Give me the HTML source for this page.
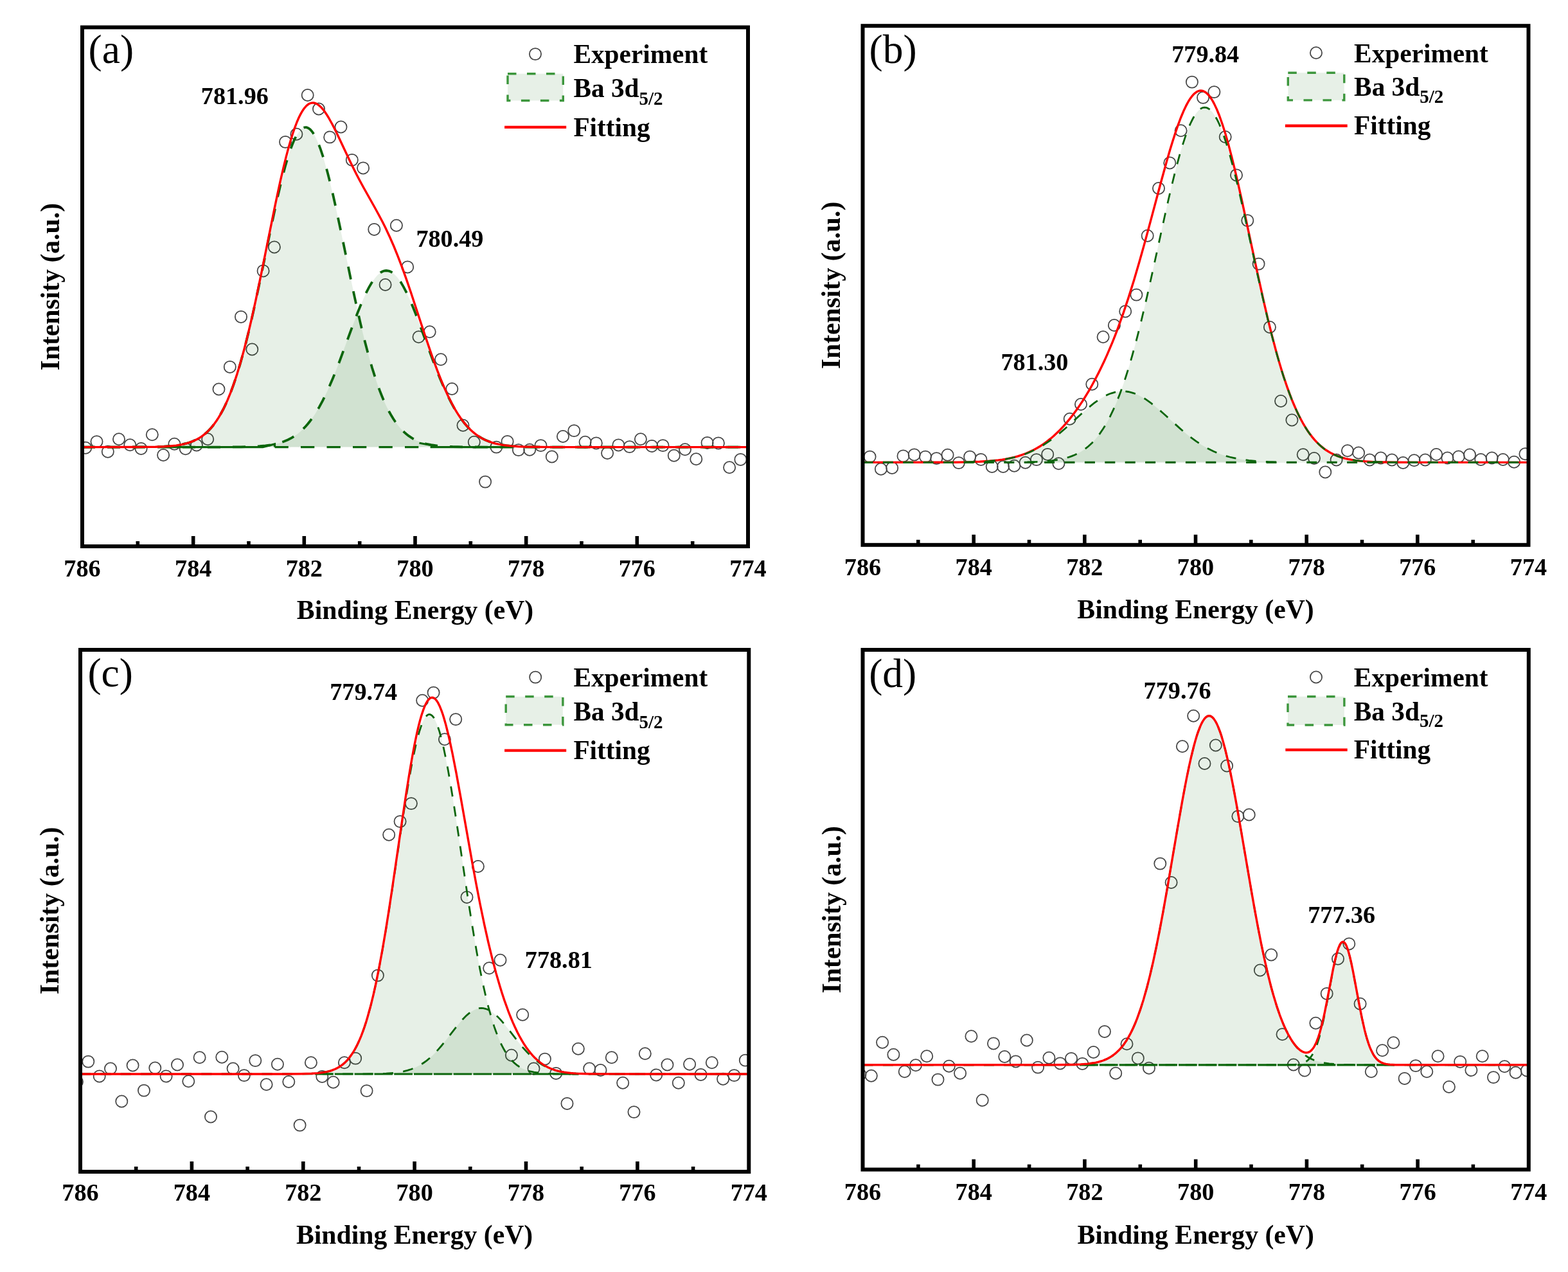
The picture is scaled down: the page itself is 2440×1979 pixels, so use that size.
<!DOCTYPE html>
<html><head><meta charset="utf-8"><title>Ba 3d5/2 XPS spectra</title><style>
html,body{margin:0;padding:0;background:#fff;overflow:hidden;width:2440px;height:1979px;}
svg{display:block;}
text{font-family:'Liberation Serif','Times New Roman',serif;fill:#000;}
.tk{font-size:38.2px;font-weight:bold;}
.ax{font-size:41.7px;font-weight:bold;}
.lg{font-size:41.3px;font-weight:bold;}
.sb{font-size:29px;}
.pk{font-size:38.2px;font-weight:bold;}
.lt{font-size:63.5px;}
circle{fill:none;stroke:#454545;stroke-width:1.75;}
</style></head>
<body><svg width="2440" height="1979" viewBox="0 0 2440 1979">
<rect x="0" y="0" width="2440" height="1979" fill="#fff"/>
<defs><clipPath id="clipa"><rect x="128" y="42.5" width="1036" height="807.5"/></clipPath></defs>
<g clip-path="url(#clipa)">
<circle cx="133.2" cy="696.8" r="9.1"/>
<circle cx="150.5" cy="687.1" r="9.1"/>
<circle cx="167.8" cy="702.8" r="9.1"/>
<circle cx="185" cy="683.3" r="9.1"/>
<circle cx="202.3" cy="692.3" r="9.1"/>
<circle cx="219.6" cy="698" r="9.1"/>
<circle cx="236.8" cy="676.3" r="9.1"/>
<circle cx="254.1" cy="708" r="9.1"/>
<circle cx="271.4" cy="690.8" r="9.1"/>
<circle cx="288.7" cy="698.3" r="9.1"/>
<circle cx="305.9" cy="692.5" r="9.1"/>
<circle cx="323.2" cy="683.2" r="9.1"/>
<circle cx="340.5" cy="605.5" r="9.1"/>
<circle cx="357.8" cy="570.9" r="9.1"/>
<circle cx="375" cy="492.9" r="9.1"/>
<circle cx="392.3" cy="543.5" r="9.1"/>
<circle cx="409.6" cy="421.4" r="9.1"/>
<circle cx="426.9" cy="384.4" r="9.1"/>
<circle cx="444.1" cy="220.9" r="9.1"/>
<circle cx="461.4" cy="208.7" r="9.1"/>
<circle cx="478.7" cy="148" r="9.1"/>
<circle cx="496" cy="169.5" r="9.1"/>
<circle cx="513.2" cy="213.4" r="9.1"/>
<circle cx="530.5" cy="197.5" r="9.1"/>
<circle cx="547.8" cy="248.9" r="9.1"/>
<circle cx="565.1" cy="261.4" r="9.1"/>
<circle cx="582.3" cy="356.9" r="9.1"/>
<circle cx="599.6" cy="443" r="9.1"/>
<circle cx="616.9" cy="350.7" r="9.1"/>
<circle cx="634.2" cy="415.4" r="9.1"/>
<circle cx="651.5" cy="524.2" r="9.1"/>
<circle cx="668.7" cy="516.2" r="9.1"/>
<circle cx="686" cy="559.2" r="9.1"/>
<circle cx="703.3" cy="605" r="9.1"/>
<circle cx="720.5" cy="661.7" r="9.1"/>
<circle cx="737.8" cy="687.7" r="9.1"/>
<circle cx="755.1" cy="749.6" r="9.1"/>
<circle cx="772.4" cy="695.6" r="9.1"/>
<circle cx="789.6" cy="686.9" r="9.1"/>
<circle cx="806.9" cy="700.1" r="9.1"/>
<circle cx="824.2" cy="699.8" r="9.1"/>
<circle cx="841.5" cy="693.1" r="9.1"/>
<circle cx="858.8" cy="710.5" r="9.1"/>
<circle cx="876" cy="679" r="9.1"/>
<circle cx="893.3" cy="670.1" r="9.1"/>
<circle cx="910.6" cy="687.7" r="9.1"/>
<circle cx="927.8" cy="689.4" r="9.1"/>
<circle cx="945.1" cy="705" r="9.1"/>
<circle cx="962.4" cy="692.4" r="9.1"/>
<circle cx="979.7" cy="695.1" r="9.1"/>
<circle cx="996.9" cy="683.2" r="9.1"/>
<circle cx="1014.2" cy="693.9" r="9.1"/>
<circle cx="1031.5" cy="693.1" r="9.1"/>
<circle cx="1048.8" cy="708.7" r="9.1"/>
<circle cx="1066" cy="699.3" r="9.1"/>
<circle cx="1083.3" cy="714.2" r="9.1"/>
<circle cx="1100.6" cy="688.9" r="9.1"/>
<circle cx="1117.9" cy="689.4" r="9.1"/>
<circle cx="1135.1" cy="727.3" r="9.1"/>
<circle cx="1152.4" cy="714.9" r="9.1"/>
<path d="M197,695.6 L197,695.6 L239,695.3 L252,694.9 L263,694.2 L273,693.2 L281,692 L289,690.2 L296,688.1 L303,685.2 L310,681.5 L316,677.4 L322,672.4 L328,666.2 L333,660.1 L339,651.5 L344,643.1 L349,633.5 L354,622.7 L359,610.5 L363,599.7 L368,584.9 L372,572.1 L376,558.3 L381,539.9 L389,507.6 L398,467.8 L423,348 L431,311.1 L439,277.3 L446,251.3 L450,238.4 L454,227.1 L458,217.5 L461,211.5 L465,205.2 L468,201.7 L470,200.1 L472,198.9 L475,198.1 L478,198.5 L480,199.4 L482,200.8 L484,202.8 L486,205.2 L490,211.5 L493,217.5 L497,227.1 L501,238.4 L505,251.3 L512,277.3 L520,311.1 L528,348 L553,467.8 L562,507.6 L570,539.9 L575,558.3 L579,572.1 L583,584.9 L588,599.7 L592,610.5 L597,622.7 L602,633.5 L607,643.1 L612,651.5 L618,660.1 L623,666.2 L629,672.4 L635,677.4 L641,681.5 L648,685.2 L655,688.1 L662,690.2 L670,692 L678,693.2 L688,694.2 L699,694.9 L712,695.3 L754,695.6 L754,695.6 Z" fill="rgba(0,100,0,0.095)" stroke="none"/>
<path d="M329,695.6 L329,695.6 L369,695.4 L393,694.8 L411,693.6 L419,692.6 L426,691.4 L433,689.7 L439,687.9 L445,685.6 L451,682.8 L457,679.3 L462,675.9 L467,671.8 L472,667.2 L477,661.9 L482,655.8 L487,649 L491,642.9 L496,634.6 L500,627.4 L509,609.2 L517,590.9 L525,571 L550,503.5 L558,482.7 L566,463.7 L573,449.3 L577,442.1 L580,437.4 L584,431.9 L587,428.5 L591,424.9 L594,423 L598,421.4 L601,421 L604,421.3 L608,422.7 L611,424.5 L615,427.9 L618,431.2 L622,436.5 L626,442.8 L630,450 L637,464.6 L645,483.7 L653,504.5 L670,550.9 L678,572 L686,591.9 L694,610 L703,628.1 L707,635.3 L712,643.5 L716,649.5 L721,656.3 L725,661.2 L730,666.6 L735,671.3 L740,675.4 L745,678.9 L751,682.5 L757,685.4 L763,687.7 L770,689.8 L777,691.4 L784,692.6 L792,693.6 L810,694.9 L834,695.4 L874,695.6 L874,695.6 Z" fill="rgba(0,100,0,0.095)" stroke="none"/>
<path d="M128,695.6 L210,695.5 L228,695.4 L242,695.2 L255,694.7 L265,694 L274,693.1 L282,691.8 L290,689.9 L294,688.7 L298,687.3 L302,685.7 L305,684.3 L309,682.1 L312,680.2 L316,677.4 L319,675 L322,672.4 L325,669.5 L328,666.2 L331,662.7 L336,656 L339,651.5 L342,646.6 L347,637.5 L350,631.5 L353,625 L358,613 L363,599.7 L368,584.9 L373,568.7 L378,551.1 L382,536 L387,516 L391,499.1 L396,476.9 L405,435 L424,343.3 L432,306.6 L436,289.5 L440,273.3 L444,258.3 L448,244.7 L452,232.6 L455,224.6 L457,219.8 L459,215.4 L462,209.8 L464,206.6 L466,203.9 L468,201.7 L469,200.8 L471,199.4 L473,198.5 L475,198.1 L476,198.1 L477,198.2 L479,198.9 L481,200.1 L483,201.7 L485,203.9 L487,206.6 L489,209.8 L491,213.4 L493,217.5 L495,222.1 L499,232.6 L503,244.7 L507,258.3 L510,269.5 L514,285.3 L518,302.3 L522,320.1 L530,357.5 L549,449.2 L555,476.9 L561,503.4 L567,528.2 L573,551.1 L579,572.1 L585,591 L588,599.7 L591,607.9 L594,615.5 L597,622.7 L600,629.4 L603,635.6 L606,641.3 L609,646.6 L612,651.5 L615,656 L618,660.1 L622,665.1 L625,668.4 L629,672.4 L632,675 L636,678.2 L639,680.2 L642,682.1 L645,683.7 L649,685.7 L652,687 L656,688.4 L663,690.5 L671,692.2 L676,692.9 L681,693.6 L691,694.4 L704,695 L724,695.4 L757,695.6 L1164,695.6" fill="none" stroke="#0b650b" stroke-width="3.8" stroke-dasharray="20 19"/>
<path d="M128,695.6 L348,695.6 L375,695.3 L394,694.8 L404,694.2 L413,693.4 L421,692.3 L429,690.7 L436,688.9 L442,686.8 L448,684.3 L454,681.1 L460,677.3 L465,673.5 L468,671 L471,668.2 L476,663 L479,659.5 L482,655.8 L487,649 L492,641.3 L497,632.9 L502,623.6 L507,613.4 L512,602.5 L518,588.5 L523,576.1 L529,560.5 L549,506.1 L556,487.7 L563,470.6 L567,461.5 L570,455.2 L574,447.4 L578,440.5 L582,434.5 L584,431.9 L586,429.6 L588,427.5 L590,425.7 L592,424.2 L594,423 L596,422 L598,421.4 L601,421 L604,421.3 L606,421.8 L608,422.7 L610,423.8 L612,425.2 L614,426.9 L616,428.9 L618,431.2 L620,433.7 L624,439.5 L628,446.3 L632,454 L635,460.2 L639,469.2 L643,478.7 L647,488.8 L654,507.2 L674,561.6 L680,577.1 L685,589.5 L691,603.4 L696,614.3 L702,626.2 L707,635.3 L712,643.5 L715,648.1 L718,652.3 L723,658.8 L726,662.3 L729,665.6 L732,668.6 L735,671.3 L738,673.9 L741,676.2 L747,680.2 L750,681.9 L754,684 L760,686.6 L766,688.7 L773,690.6 L780,692 L788,693.2 L797,694.1 L807,694.7 L818,695.1 L837,695.5 L867,695.6 L1164,695.6" fill="none" stroke="#0b650b" stroke-width="3.8" stroke-dasharray="20 19"/>
<path d="M262,695.6 L409,695.6 L427.5,690.9 L427.5,695.6" fill="none" stroke="#0b650b" stroke-width="3.2"/>
<path d="M427.5,695.6 L652,695.6" fill="none" stroke="#0b650b" stroke-width="3.2" stroke-dasharray="21.3 19.2"/>
<path d="M652.5,689.2 L671.2,692.8 L671.2,695.6 L780,695.6" fill="none" stroke="#0b650b" stroke-width="3.2"/>
<path d="M128,695.6 L210,695.5 L228,695.4 L242,695.2 L255,694.7 L265,694 L274,693.1 L282,691.8 L287,690.7 L291,689.7 L295,688.4 L299,686.9 L303,685.2 L306,683.7 L310,681.5 L313,679.6 L317,676.6 L320,674.2 L323,671.4 L326,668.4 L329,665.1 L332,661.4 L337,654.5 L340,649.9 L343,644.9 L348,635.5 L351,629.3 L354,622.6 L359,610.4 L364,596.7 L369,581.6 L374,565.1 L380,543.3 L384,527.7 L389,507 L393,489.6 L398,466.8 L407,423.7 L427,324.8 L432,301 L436,282.7 L441,261.1 L445,244.8 L449,229.7 L453,215.9 L456,206.5 L458,200.6 L462,190 L464,185.3 L466,181 L468,177.1 L470,173.6 L472,170.5 L474,167.8 L476,165.5 L478,163.6 L480,162.1 L482,161 L484,160.3 L485,160.1 L487,159.9 L488,160 L490,160.4 L493,161.6 L496,163.6 L499,166.2 L502,169.5 L505,173.3 L508,177.7 L512,184.2 L517,193.3 L522,203.1 L528,215.5 L544,249.5 L550,261.8 L555,271.7 L560,281.2 L566,292.3 L583,322.5 L589,333.5 L595,344.8 L600,354.8 L607,369.7 L613,383.5 L619,398.3 L626,416.7 L632,433.4 L639,453.8 L662,523.7 L671,550.1 L676,564.2 L681,577.6 L686,590.3 L691,602.3 L697,615.5 L703,627.5 L708,636.6 L711,641.6 L714,646.3 L717,650.7 L720,654.8 L723,658.6 L726,662.2 L729,665.4 L732,668.5 L735,671.2 L739,674.6 L742,676.8 L745,678.9 L748,680.8 L752,683 L755,684.5 L759,686.2 L763,687.7 L767,689 L771,690.1 L776,691.2 L785,692.8 L795,693.9 L807,694.7 L816,695.1 L827,695.3 L858,695.6 L1164,695.6" fill="none" stroke="#ff0000" stroke-width="3.4" stroke-linejoin="round"/>
</g>
<rect x="128" y="42.5" width="1036" height="807.5" fill="none" stroke="#000" stroke-width="6.0"/>
<line x1="214.3" y1="850" x2="214.3" y2="842" stroke="#000" stroke-width="5.6"/>
<line x1="300.7" y1="850" x2="300.7" y2="834" stroke="#000" stroke-width="5.6"/>
<line x1="387" y1="850" x2="387" y2="842" stroke="#000" stroke-width="5.6"/>
<line x1="473.3" y1="850" x2="473.3" y2="834" stroke="#000" stroke-width="5.6"/>
<line x1="559.7" y1="850" x2="559.7" y2="842" stroke="#000" stroke-width="5.6"/>
<line x1="646" y1="850" x2="646" y2="834" stroke="#000" stroke-width="5.6"/>
<line x1="732.3" y1="850" x2="732.3" y2="842" stroke="#000" stroke-width="5.6"/>
<line x1="818.7" y1="850" x2="818.7" y2="834" stroke="#000" stroke-width="5.6"/>
<line x1="905" y1="850" x2="905" y2="842" stroke="#000" stroke-width="5.6"/>
<line x1="991.3" y1="850" x2="991.3" y2="834" stroke="#000" stroke-width="5.6"/>
<line x1="1077.7" y1="850" x2="1077.7" y2="842" stroke="#000" stroke-width="5.6"/>
<text x="128" y="896.5" text-anchor="middle" class="tk">786</text>
<text x="300.7" y="896.5" text-anchor="middle" class="tk">784</text>
<text x="473.3" y="896.5" text-anchor="middle" class="tk">782</text>
<text x="646" y="896.5" text-anchor="middle" class="tk">780</text>
<text x="818.7" y="896.5" text-anchor="middle" class="tk">778</text>
<text x="991.3" y="896.5" text-anchor="middle" class="tk">776</text>
<text x="1164" y="896.5" text-anchor="middle" class="tk">774</text>
<text x="646" y="963.4" text-anchor="middle" class="ax">Binding Energy (eV)</text>
<text transform="translate(92.3,446.2) rotate(-90)" text-anchor="middle" class="ax">Intensity (a.u.)</text>
<text x="137.6" y="98.2" class="lt">(a)</text>
<circle cx="833" cy="84.1" r="9.1"/>
<text x="892.4" y="98.2" class="lg">Experiment</text>
<rect x="790" y="114.7" width="86.3" height="41.8" fill="rgba(0,100,0,0.095)" stroke="#3c963c" stroke-width="3.4" stroke-dasharray="13.5 16.5"/>
<text x="892.4" y="151.1" class="lg">Ba 3d<tspan class="sb" dy="11.6">5/2</tspan></text>
<line x1="785.1" y1="197.9" x2="881.2" y2="197.9" stroke="#ff0000" stroke-width="4.4"/>
<text x="892.4" y="212.2" class="lg">Fitting</text>
<text x="312.8" y="162.2" class="pk">781.96</text>
<text x="647.4" y="384.2" class="pk">780.49</text>
<defs><clipPath id="clipb"><rect x="1342.5" y="40.2" width="1036" height="807.6"/></clipPath></defs>
<g clip-path="url(#clipb)">
<circle cx="1353.6" cy="710.6" r="9.1"/>
<circle cx="1370.9" cy="729.7" r="9.1"/>
<circle cx="1388.2" cy="728" r="9.1"/>
<circle cx="1405.5" cy="709.4" r="9.1"/>
<circle cx="1422.7" cy="707.4" r="9.1"/>
<circle cx="1440" cy="710.6" r="9.1"/>
<circle cx="1457.3" cy="713.1" r="9.1"/>
<circle cx="1474.6" cy="707.7" r="9.1"/>
<circle cx="1491.9" cy="720.1" r="9.1"/>
<circle cx="1509.2" cy="710.6" r="9.1"/>
<circle cx="1526.4" cy="714.9" r="9.1"/>
<circle cx="1543.7" cy="726" r="9.1"/>
<circle cx="1561" cy="726" r="9.1"/>
<circle cx="1578.3" cy="724.8" r="9.1"/>
<circle cx="1595.6" cy="719.8" r="9.1"/>
<circle cx="1612.9" cy="715.1" r="9.1"/>
<circle cx="1630.2" cy="706.9" r="9.1"/>
<circle cx="1647.4" cy="721.3" r="9.1"/>
<circle cx="1664.7" cy="651.8" r="9.1"/>
<circle cx="1682" cy="629" r="9.1"/>
<circle cx="1699.3" cy="597.7" r="9.1"/>
<circle cx="1716.6" cy="524.2" r="9.1"/>
<circle cx="1733.9" cy="506" r="9.1"/>
<circle cx="1751.2" cy="484.4" r="9.1"/>
<circle cx="1768.4" cy="458.6" r="9.1"/>
<circle cx="1785.7" cy="366.8" r="9.1"/>
<circle cx="1803" cy="293" r="9.1"/>
<circle cx="1820.3" cy="253.4" r="9.1"/>
<circle cx="1837.6" cy="203.3" r="9.1"/>
<circle cx="1854.9" cy="127.6" r="9.1"/>
<circle cx="1872.1" cy="151.9" r="9.1"/>
<circle cx="1889.4" cy="143.1" r="9.1"/>
<circle cx="1906.7" cy="213" r="9.1"/>
<circle cx="1924" cy="272.4" r="9.1"/>
<circle cx="1941.3" cy="343.1" r="9.1"/>
<circle cx="1958.6" cy="410.6" r="9.1"/>
<circle cx="1975.9" cy="509" r="9.1"/>
<circle cx="1993.1" cy="624" r="9.1"/>
<circle cx="2010.4" cy="653.5" r="9.1"/>
<circle cx="2027.7" cy="707.3" r="9.1"/>
<circle cx="2045" cy="713" r="9.1"/>
<circle cx="2062.3" cy="734.5" r="9.1"/>
<circle cx="2079.6" cy="715.5" r="9.1"/>
<circle cx="2096.9" cy="701.2" r="9.1"/>
<circle cx="2114.1" cy="704.5" r="9.1"/>
<circle cx="2131.4" cy="715.5" r="9.1"/>
<circle cx="2148.7" cy="712.5" r="9.1"/>
<circle cx="2166" cy="715.5" r="9.1"/>
<circle cx="2183.3" cy="720" r="9.1"/>
<circle cx="2200.6" cy="716.2" r="9.1"/>
<circle cx="2217.8" cy="715.5" r="9.1"/>
<circle cx="2235.1" cy="707" r="9.1"/>
<circle cx="2252.4" cy="712.5" r="9.1"/>
<circle cx="2269.7" cy="710.5" r="9.1"/>
<circle cx="2287" cy="707.5" r="9.1"/>
<circle cx="2304.3" cy="715" r="9.1"/>
<circle cx="2321.6" cy="712.5" r="9.1"/>
<circle cx="2338.8" cy="715" r="9.1"/>
<circle cx="2356.1" cy="718.7" r="9.1"/>
<circle cx="2373.4" cy="706.2" r="9.1"/>
<path d="M1547.5,719.4 L1547.5,719.4 L1596.5,719 L1612.5,718.6 L1625.5,717.8 L1637.5,716.7 L1647.5,715.2 L1656.5,713.2 L1664.5,710.9 L1672.5,707.7 L1680.5,703.7 L1688.5,698.4 L1695.5,692.7 L1702.5,685.7 L1708.5,678.6 L1714.5,670.3 L1720.5,660.8 L1726.5,649.9 L1731.5,639.6 L1737.5,625.9 L1742.5,613.2 L1748.5,596.5 L1753.5,581.3 L1758.5,564.9 L1764.5,543.8 L1773.5,509.2 L1783.5,467.4 L1792.5,427.4 L1812.5,336 L1822.5,292.3 L1831.5,256.3 L1836.5,238.1 L1840.5,224.8 L1845.5,209.8 L1849.5,199.2 L1853.5,190 L1857.5,182.3 L1860.5,177.5 L1862.5,174.8 L1866.5,170.6 L1868.5,169.1 L1870.5,168 L1872.5,167.4 L1874.5,167.1 L1876.5,167.3 L1878.5,167.9 L1880.5,168.9 L1882.5,170.3 L1886.5,174.3 L1888.5,176.9 L1891.5,181.6 L1895.5,189.2 L1899.5,198.2 L1903.5,208.7 L1908.5,223.5 L1912.5,236.8 L1917.5,254.8 L1926.5,290.6 L1936.5,334.2 L1956.5,425.6 L1966.5,470 L1976.5,511.6 L1985.5,546 L1991.5,566.9 L1996.5,583.1 L2001.5,598.2 L2007.5,614.8 L2012.5,627.3 L2018.5,640.9 L2023.5,651 L2029.5,661.8 L2035.5,671.2 L2041.5,679.4 L2047.5,686.4 L2054.5,693.2 L2061.5,698.9 L2069.5,704 L2077.5,708 L2085.5,711.1 L2093.5,713.4 L2102.5,715.3 L2112.5,716.7 L2124.5,717.9 L2137.5,718.6 L2152.5,719 L2201.5,719.4 L2201.5,719.4 Z" fill="rgba(0,100,0,0.095)" stroke="none"/>
<path d="M1417.5,719.4 L1417.5,719.4 L1495.5,719.1 L1517.5,718.6 L1535.5,717.7 L1551.5,716.2 L1566.5,714 L1579.5,711.2 L1591.5,707.6 L1602.5,703.4 L1613.5,698.2 L1624.5,691.8 L1635.5,684.4 L1644.5,677.6 L1654.5,669.3 L1684.5,642.3 L1694.5,633.6 L1703.5,626.5 L1712.5,620.2 L1721.5,615.1 L1729.5,611.8 L1734.5,610.3 L1738.5,609.4 L1742.5,608.9 L1746.5,608.7 L1750.5,608.8 L1754.5,609.3 L1758.5,610.1 L1763.5,611.5 L1767.5,613 L1772.5,615.2 L1781.5,620.3 L1790.5,626.6 L1799.5,633.8 L1808.5,641.6 L1839.5,669.4 L1849.5,677.7 L1858.5,684.6 L1869.5,692 L1880.5,698.3 L1891.5,703.5 L1902.5,707.7 L1914.5,711.2 L1927.5,714 L1942.5,716.2 L1958.5,717.7 L1976.5,718.6 L1998.5,719.1 L2076.5,719.4 L2076.5,719.4 Z" fill="rgba(0,100,0,0.095)" stroke="none"/>
<path d="M1342.5,719.4 L1462.5,719.3 L1487.5,719.2 L1506.5,718.9 L1524.5,718.3 L1539.5,717.3 L1553.5,715.9 L1559.5,715.1 L1565.5,714.1 L1572.5,712.7 L1578.5,711.3 L1584.5,709.6 L1590.5,707.7 L1596.5,705.5 L1602.5,702.9 L1608.5,700 L1613.5,697.3 L1619.5,693.7 L1624.5,690.3 L1629.5,686.7 L1634.5,682.7 L1639.5,678.5 L1644.5,673.8 L1649.5,668.9 L1654.5,663.6 L1659.5,657.9 L1664.5,651.9 L1669.5,645.5 L1674.5,638.8 L1679.5,631.6 L1684.5,624.1 L1689.5,616.1 L1694.5,607.8 L1699.5,599 L1704.5,589.8 L1709.5,580.1 L1713.5,572 L1718.5,561.4 L1722.5,552.6 L1730.5,533.8 L1735.5,521.3 L1739.5,510.8 L1747.5,488.7 L1755.5,464.9 L1764.5,436.2 L1772.5,409.1 L1780.5,380.6 L1788.5,351.1 L1806.5,283.7 L1815.5,251.1 L1820.5,233.8 L1824.5,220.7 L1828.5,208.2 L1832.5,196.4 L1837.5,183 L1842.5,171.2 L1845.5,164.9 L1847.5,161.1 L1849.5,157.5 L1851.5,154.3 L1854.5,150.2 L1856.5,147.8 L1858.5,145.8 L1860.5,144.1 L1862.5,142.8 L1864.5,141.8 L1866.5,141.2 L1868.5,141 L1870.5,141.2 L1872.5,141.7 L1874.5,142.7 L1876.5,144 L1878.5,145.7 L1880.5,147.7 L1882.5,150.2 L1885.5,154.5 L1887.5,157.9 L1889.5,161.6 L1893.5,170.1 L1897.5,180 L1902.5,194.2 L1906.5,206.9 L1911.5,224.4 L1916.5,243.4 L1921.5,263.7 L1926.5,285.1 L1932.5,311.9 L1956.5,423.7 L1967.5,473.1 L1973.5,498.6 L1979.5,522.7 L1985.5,545.4 L1990.5,563.1 L1994.5,576.4 L1997.5,585.9 L2003.5,603.7 L2006.5,611.9 L2010.5,622.3 L2013.5,629.5 L2017.5,638.6 L2020.5,645 L2024.5,652.8 L2027.5,658.3 L2031.5,665 L2034.5,669.7 L2038.5,675.4 L2041.5,679.3 L2045.5,684.1 L2048.5,687.4 L2052.5,691.4 L2055.5,694.1 L2059.5,697.4 L2063.5,700.3 L2067.5,702.8 L2071.5,705.1 L2075.5,707.1 L2079.5,708.8 L2084.5,710.7 L2088.5,712 L2093.5,713.4 L2098.5,714.5 L2103.5,715.4 L2109.5,716.4 L2115.5,717.1 L2125.5,717.9 L2137.5,718.6 L2151.5,719 L2168.5,719.2 L2212.5,719.4 L2378.5,719.4" fill="none" stroke="#ff0000" stroke-width="3.4" stroke-linejoin="round"/>
<path d="M1598.5,719 L1613.5,718.5 L1626.5,717.7 L1637.5,716.7 L1647.5,715.2 L1656.5,713.2 L1660.5,712.1 L1664.5,710.9 L1668.5,709.4 L1672.5,707.7 L1676.5,705.8 L1679.5,704.2 L1683.5,701.8 L1686.5,699.9 L1690.5,696.9 L1693.5,694.5 L1696.5,691.8 L1699.5,688.9 L1702.5,685.7 L1705.5,682.3 L1708.5,678.6 L1711.5,674.6 L1716.5,667.3 L1719.5,662.5 L1722.5,657.3 L1727.5,647.9 L1732.5,637.4 L1737.5,625.9 L1742.5,613.2 L1747.5,599.4 L1751.5,587.5 L1756.5,571.6 L1761.5,554.5 L1766.5,536.4 L1770.5,521.1 L1775.5,501.1 L1784.5,463.1 L1793.5,422.9 L1812.5,336 L1817.5,313.8 L1822.5,292.3 L1827.5,271.8 L1831.5,256.3 L1835.5,241.6 L1839.5,228 L1844.5,212.6 L1848.5,201.7 L1851.5,194.4 L1853.5,190 L1855.5,186 L1857.5,182.3 L1860.5,177.5 L1862.5,174.8 L1864.5,172.5 L1866.5,170.6 L1868.5,169.1 L1870.5,168 L1872.5,167.4 L1874.5,167.1 L1876.5,167.3 L1878.5,167.9 L1880.5,168.9 L1882.5,170.3 L1884.5,172.1 L1886.5,174.3 L1888.5,176.9 L1891.5,181.6 L1893.5,185.2 L1895.5,189.2 L1897.5,193.5 L1900.5,200.7 L1904.5,211.5 L1909.5,226.7 L1913.5,240.2 L1918.5,258.5 L1922.5,274.2 L1927.5,294.8 L1936.5,334.2 L1956.5,425.6 L1964.5,461.3 L1973.5,499.5 L1978.5,519.5 L1982.5,534.9 L1987.5,553.1 L1992.5,570.3 L1997.5,586.3 L2001.5,598.2 L2006.5,612.1 L2011.5,624.9 L2016.5,636.5 L2021.5,647.1 L2026.5,656.6 L2029.5,661.8 L2032.5,666.7 L2035.5,671.2 L2038.5,675.5 L2041.5,679.4 L2044.5,683 L2047.5,686.4 L2050.5,689.5 L2053.5,692.3 L2056.5,695 L2059.5,697.4 L2063.5,700.3 L2066.5,702.2 L2070.5,704.6 L2073.5,706.1 L2077.5,708 L2081.5,709.6 L2085.5,711.1 L2093.5,713.4 L2102.5,715.3 L2112.5,716.7 L2123.5,717.8 L2136.5,718.5 L2151.5,719" fill="none" stroke="#0b650b" stroke-width="2.8" stroke-dasharray="16 15.4"/>
<path d="M1501.5,719 L1520.5,718.4 L1536.5,717.6 L1550.5,716.3 L1562.5,714.7 L1568.5,713.6 L1574.5,712.4 L1580.5,710.9 L1585.5,709.5 L1590.5,708 L1595.5,706.2 L1600.5,704.3 L1605.5,702.1 L1610.5,699.7 L1614.5,697.6 L1622.5,693.1 L1631.5,687.2 L1640.5,680.7 L1648.5,674.3 L1657.5,666.7 L1683.5,643.2 L1693.5,634.4 L1702.5,627.2 L1706.5,624.3 L1710.5,621.5 L1715.5,618.4 L1720.5,615.6 L1725.5,613.3 L1729.5,611.8 L1734.5,610.3 L1738.5,609.4 L1742.5,608.9 L1746.5,608.7 L1750.5,608.8 L1755.5,609.5 L1759.5,610.3 L1764.5,611.8 L1768.5,613.4 L1773.5,615.7 L1778.5,618.5 L1783.5,621.6 L1791.5,627.4 L1800.5,634.6 L1809.5,642.5 L1836.5,666.9 L1844.5,673.7 L1852.5,680.1 L1861.5,686.7 L1870.5,692.6 L1879.5,697.7 L1883.5,699.8 L1888.5,702.2 L1893.5,704.3 L1898.5,706.3 L1903.5,708 L1908.5,709.6 L1913.5,711 L1919.5,712.4 L1925.5,713.7 L1931.5,714.7 L1943.5,716.3 L1957.5,717.6 L1973.5,718.5 L1992.5,719" fill="none" stroke="#0b650b" stroke-width="2.8" stroke-dasharray="16 15.4"/>
<path d="M1342.5,719.4 L2378.5,719.4" fill="none" stroke="#0b650b" stroke-width="3.2" stroke-dasharray="16 15.4"/>
</g>
<rect x="1342.5" y="40.2" width="1036" height="807.6" fill="none" stroke="#000" stroke-width="6.0"/>
<line x1="1428.8" y1="847.8" x2="1428.8" y2="839.8" stroke="#000" stroke-width="5.6"/>
<line x1="1515.2" y1="847.8" x2="1515.2" y2="831.8" stroke="#000" stroke-width="5.6"/>
<line x1="1601.5" y1="847.8" x2="1601.5" y2="839.8" stroke="#000" stroke-width="5.6"/>
<line x1="1687.8" y1="847.8" x2="1687.8" y2="831.8" stroke="#000" stroke-width="5.6"/>
<line x1="1774.2" y1="847.8" x2="1774.2" y2="839.8" stroke="#000" stroke-width="5.6"/>
<line x1="1860.5" y1="847.8" x2="1860.5" y2="831.8" stroke="#000" stroke-width="5.6"/>
<line x1="1946.8" y1="847.8" x2="1946.8" y2="839.8" stroke="#000" stroke-width="5.6"/>
<line x1="2033.2" y1="847.8" x2="2033.2" y2="831.8" stroke="#000" stroke-width="5.6"/>
<line x1="2119.5" y1="847.8" x2="2119.5" y2="839.8" stroke="#000" stroke-width="5.6"/>
<line x1="2205.8" y1="847.8" x2="2205.8" y2="831.8" stroke="#000" stroke-width="5.6"/>
<line x1="2292.2" y1="847.8" x2="2292.2" y2="839.8" stroke="#000" stroke-width="5.6"/>
<text x="1342.5" y="895" text-anchor="middle" class="tk">786</text>
<text x="1515.2" y="895" text-anchor="middle" class="tk">784</text>
<text x="1687.8" y="895" text-anchor="middle" class="tk">782</text>
<text x="1860.5" y="895" text-anchor="middle" class="tk">780</text>
<text x="2033.2" y="895" text-anchor="middle" class="tk">778</text>
<text x="2205.8" y="895" text-anchor="middle" class="tk">776</text>
<text x="2378.5" y="895" text-anchor="middle" class="tk">774</text>
<text x="1860.5" y="961.6" text-anchor="middle" class="ax">Binding Energy (eV)</text>
<text transform="translate(1307,444) rotate(-90)" text-anchor="middle" class="ax">Intensity (a.u.)</text>
<text x="1352.5" y="98.1" class="lt">(b)</text>
<circle cx="2048" cy="82.2" r="9.1"/>
<text x="2107.1" y="96.8" class="lg">Experiment</text>
<rect x="2004.3" y="113.2" width="87.5" height="42.7" fill="rgba(0,100,0,0.095)" stroke="#3c963c" stroke-width="3.4" stroke-dasharray="13.5 16.5"/>
<text x="2107.1" y="149.3" class="lg">Ba 3d<tspan class="sb" dy="10.3">5/2</tspan></text>
<line x1="1999.9" y1="195.8" x2="2096.7" y2="195.8" stroke="#ff0000" stroke-width="4.4"/>
<text x="2107.1" y="208.8" class="lg">Fitting</text>
<text x="1823.2" y="96.5" class="pk">779.84</text>
<text x="1557.4" y="575.6" class="pk">781.30</text>
<defs><clipPath id="clipc"><rect x="125" y="1011" width="1040.3" height="812"/></clipPath></defs>
<g clip-path="url(#clipc)">
<circle cx="120" cy="1683" r="9.1"/>
<circle cx="137.3" cy="1651.6" r="9.1"/>
<circle cx="154.7" cy="1674.4" r="9.1"/>
<circle cx="172" cy="1662.5" r="9.1"/>
<circle cx="189.3" cy="1713.5" r="9.1"/>
<circle cx="206.6" cy="1657.5" r="9.1"/>
<circle cx="224" cy="1696.6" r="9.1"/>
<circle cx="241.3" cy="1661.5" r="9.1"/>
<circle cx="258.6" cy="1674.4" r="9.1"/>
<circle cx="276" cy="1656.5" r="9.1"/>
<circle cx="293.3" cy="1682.3" r="9.1"/>
<circle cx="310.6" cy="1645.2" r="9.1"/>
<circle cx="328" cy="1737.5" r="9.1"/>
<circle cx="345.3" cy="1644.7" r="9.1"/>
<circle cx="362.6" cy="1662.5" r="9.1"/>
<circle cx="379.9" cy="1673.1" r="9.1"/>
<circle cx="397.3" cy="1650.1" r="9.1"/>
<circle cx="414.6" cy="1687.2" r="9.1"/>
<circle cx="431.9" cy="1655.8" r="9.1"/>
<circle cx="449.3" cy="1683" r="9.1"/>
<circle cx="466.6" cy="1750.6" r="9.1"/>
<circle cx="483.9" cy="1653.3" r="9.1"/>
<circle cx="501.3" cy="1674.9" r="9.1"/>
<circle cx="518.6" cy="1683.8" r="9.1"/>
<circle cx="535.9" cy="1653.3" r="9.1"/>
<circle cx="553.2" cy="1646.6" r="9.1"/>
<circle cx="570.6" cy="1697.1" r="9.1"/>
<circle cx="587.9" cy="1517.6" r="9.1"/>
<circle cx="605.2" cy="1298.8" r="9.1"/>
<circle cx="622.6" cy="1278.1" r="9.1"/>
<circle cx="639.9" cy="1250.1" r="9.1"/>
<circle cx="657.2" cy="1089.7" r="9.1"/>
<circle cx="674.6" cy="1077.6" r="9.1"/>
<circle cx="691.9" cy="1150.2" r="9.1"/>
<circle cx="709.2" cy="1119.1" r="9.1"/>
<circle cx="726.5" cy="1395.9" r="9.1"/>
<circle cx="743.9" cy="1348" r="9.1"/>
<circle cx="761.2" cy="1506.2" r="9.1"/>
<circle cx="778.5" cy="1493.8" r="9.1"/>
<circle cx="795.9" cy="1641.7" r="9.1"/>
<circle cx="813.2" cy="1578.8" r="9.1"/>
<circle cx="830.5" cy="1662.5" r="9.1"/>
<circle cx="847.9" cy="1647.6" r="9.1"/>
<circle cx="865.2" cy="1669.9" r="9.1"/>
<circle cx="882.5" cy="1716.9" r="9.1"/>
<circle cx="899.8" cy="1631.8" r="9.1"/>
<circle cx="917.2" cy="1662.5" r="9.1"/>
<circle cx="934.5" cy="1665" r="9.1"/>
<circle cx="951.8" cy="1645.2" r="9.1"/>
<circle cx="969.2" cy="1684.8" r="9.1"/>
<circle cx="986.5" cy="1730.1" r="9.1"/>
<circle cx="1003.8" cy="1639.2" r="9.1"/>
<circle cx="1021.2" cy="1672.4" r="9.1"/>
<circle cx="1038.5" cy="1656.5" r="9.1"/>
<circle cx="1055.8" cy="1684.8" r="9.1"/>
<circle cx="1073.1" cy="1655.8" r="9.1"/>
<circle cx="1090.5" cy="1671.9" r="9.1"/>
<circle cx="1107.8" cy="1653.3" r="9.1"/>
<circle cx="1125.1" cy="1678.8" r="9.1"/>
<circle cx="1142.5" cy="1673.1" r="9.1"/>
<circle cx="1159.8" cy="1649.6" r="9.1"/>
<path d="M443,1671 L443,1671 L476,1670.6 L487,1670.2 L496,1669.5 L504,1668.4 L511,1666.9 L517,1665.1 L523,1662.6 L529,1659.2 L534,1655.5 L539,1650.9 L544,1645.1 L549,1638 L553,1631.2 L558,1621.2 L562,1611.8 L566,1601.1 L570,1589.1 L574,1575.5 L577,1564.3 L584,1534.7 L588,1515.6 L592,1495 L598,1461.4 L605,1418.5 L626,1278.6 L633,1233.9 L639,1198.9 L645,1168.4 L648,1155.2 L651,1143.5 L654,1133.5 L657,1125.3 L660,1118.9 L663,1114.5 L665,1112.6 L666,1112 L668,1111.5 L669,1111.6 L671,1112.4 L672,1113.1 L674,1115.2 L677,1120.1 L680,1126.8 L683,1135.4 L686,1145.7 L689,1157.7 L692,1171.2 L698,1202.2 L704,1237.6 L711,1282.6 L731,1416 L738,1459 L745,1498.2 L749,1518.6 L753,1537.4 L760,1566.6 L763,1577.6 L767,1591 L771,1602.8 L775,1613.3 L779,1622.5 L783,1630.5 L787,1637.4 L792,1644.6 L797,1650.5 L802,1655.2 L807,1658.9 L813,1662.4 L819,1665 L825,1666.8 L832,1668.3 L840,1669.4 L849,1670.2 L860,1670.6 L893,1671 L893,1671 Z" fill="rgba(0,100,0,0.095)" stroke="none"/>
<path d="M535,1671 L535,1671 L585,1670.7 L599,1670.3 L611,1669.4 L622,1668 L631,1666.2 L640,1663.5 L648,1660.1 L656,1655.7 L663,1650.8 L670,1645 L677,1638.2 L683,1631.7 L689,1624.6 L715,1591.6 L721,1584.9 L727,1579 L733,1574.2 L738,1571.3 L741,1570 L744,1569.1 L749,1568.5 L754,1569 L757,1569.9 L760,1571.1 L763,1572.7 L766,1574.6 L772,1579.5 L777,1584.4 L783,1591.2 L790,1599.8 L809,1624.1 L816,1632.4 L822,1638.9 L829,1645.6 L836,1651.3 L843,1656.1 L851,1660.4 L859,1663.7 L868,1666.3 L877,1668.1 L888,1669.5 L900,1670.3 L914,1670.7 L964,1671 L964,1671 Z" fill="rgba(0,100,0,0.095)" stroke="none"/>
<path d="M125,1671 L441,1671 L467,1670.8 L484,1670.4 L494,1669.7 L503,1668.6 L510,1667.2 L514,1666.1 L517,1665.1 L520,1664 L523,1662.6 L526,1661 L529,1659.2 L532,1657.1 L534,1655.5 L537,1652.9 L539,1650.9 L542,1647.6 L545,1643.8 L548,1639.5 L551,1634.7 L554,1629.4 L556,1625.4 L559,1619 L561,1614.3 L564,1606.7 L566,1601.1 L569,1592.2 L571,1585.8 L576,1568.1 L580,1552.2 L584,1534.7 L589,1510.6 L594,1484.1 L599,1455.5 L603,1431.1 L608,1399.2 L625,1285.2 L631,1246.3 L637,1210.1 L640,1193.5 L643,1178 L647,1159.4 L650,1147.2 L653,1136.7 L656,1127.8 L658,1123 L659,1120.9 L661,1117.2 L662,1115.8 L664,1113.5 L665,1112.6 L666,1112 L667,1111.7 L668,1111.5 L669,1111.6 L670,1111.9 L671,1112.4 L672,1113.1 L674,1115.2 L675,1116.6 L677,1120.1 L679,1124.4 L681,1129.5 L684,1138.6 L687,1149.5 L690,1162 L694,1181 L697,1196.7 L700,1213.6 L706,1250.1 L712,1289.2 L728,1396.6 L733,1428.6 L737,1453.1 L742,1481.9 L747,1508.6 L752,1532.9 L756,1550.5 L760,1566.6 L765,1584.5 L769,1597.1 L771,1602.8 L774,1610.8 L776,1615.7 L779,1622.5 L781,1626.6 L784,1632.3 L786,1635.7 L789,1640.4 L792,1644.6 L795,1648.3 L797,1650.5 L800,1653.4 L802,1655.2 L805,1657.5 L808,1659.6 L811,1661.4 L814,1662.9 L817,1664.2 L820,1665.3 L824,1666.6 L831,1668.1 L839,1669.3 L849,1670.2 L865,1670.8 L891,1671 L1165.3,1671" fill="none" stroke="#0b650b" stroke-width="2.8" stroke-dasharray="16 15.4"/>
<path d="M125,1671 L568,1670.9 L587,1670.7 L601,1670.2 L612,1669.3 L617,1668.8 L622,1668 L628,1666.9 L634,1665.4 L640,1663.5 L645,1661.5 L650,1659.1 L655,1656.3 L660,1653 L664,1650.1 L668,1646.8 L673,1642.2 L678,1637.2 L683,1631.7 L687,1627 L692,1620.9 L708,1600.3 L714,1592.8 L720,1585.9 L725,1580.8 L728,1578.1 L731,1575.7 L734,1573.6 L737,1571.8 L740,1570.4 L743,1569.4 L746,1568.7 L749,1568.5 L752,1568.7 L755,1569.3 L758,1570.2 L761,1571.6 L764,1573.3 L767,1575.4 L770,1577.8 L774,1581.4 L779,1586.6 L785,1593.6 L791,1601.1 L806,1620.4 L811,1626.6 L815,1631.3 L820,1636.8 L824,1640.9 L828,1644.7 L832,1648.1 L836,1651.3 L840,1654.1 L844,1656.7 L849,1659.4 L853,1661.3 L858,1663.3 L863,1665 L868,1666.3 L872,1667.2 L877,1668.1 L882,1668.8 L888,1669.5 L901,1670.3 L917,1670.8 L955,1671 L1165.3,1671" fill="none" stroke="#0b650b" stroke-width="2.8" stroke-dasharray="16 15.4"/>
<path d="M490,1671 L900,1671" fill="none" stroke="#0b650b" stroke-width="3.2" stroke-dasharray="28.8 2"/>
<path d="M125,1671 L442,1671 L468,1670.8 L485,1670.3 L495,1669.6 L504,1668.4 L511,1666.9 L515,1665.8 L518,1664.7 L521,1663.5 L524,1662.1 L527,1660.5 L530,1658.5 L533,1656.3 L535,1654.7 L538,1651.9 L540,1649.8 L543,1646.3 L546,1642.4 L549,1638 L552,1633 L555,1627.4 L557,1623.3 L560,1616.6 L562,1611.8 L565,1603.9 L567,1598.2 L570,1589 L572,1582.3 L577,1564.1 L581,1547.8 L585,1529.8 L590,1505.1 L595,1478 L600,1448.7 L605,1417.4 L610,1384.6 L626,1274.9 L632,1235 L636,1209.7 L639,1191.7 L642,1174.7 L645,1158.9 L649,1139.7 L652,1127 L654,1119.4 L656,1112.5 L659,1103.6 L661,1098.6 L663,1094.3 L665,1090.9 L666,1089.5 L668,1087.3 L669,1086.5 L670,1085.9 L671,1085.5 L672,1085.3 L673,1085.3 L674,1085.5 L675,1085.9 L676,1086.5 L678,1088.3 L679,1089.5 L681,1092.4 L682,1094.2 L684,1098.2 L687,1105.6 L689,1111.3 L691,1117.7 L694,1128.4 L698,1144.5 L701,1157.8 L704,1172 L710,1202.7 L717,1241.1 L735,1342.9 L741,1375.3 L747,1406.2 L754,1439.9 L760,1466.7 L766,1491.4 L772,1514.1 L778,1534.8 L781,1544.5 L785,1556.6 L791,1573.3 L794,1581 L798,1590.6 L801,1597.3 L805,1605.7 L808,1611.5 L812,1618.7 L815,1623.6 L819,1629.7 L822,1633.8 L826,1638.9 L829,1642.3 L832,1645.5 L835,1648.3 L839,1651.8 L842,1654.1 L846,1656.8 L849,1658.6 L853,1660.7 L857,1662.5 L861,1664 L865,1665.3 L869,1666.4 L873,1667.3 L878,1668.2 L883,1668.9 L888,1669.5 L896,1670.1 L906,1670.5 L917,1670.8 L932,1670.9 L1165.3,1671" fill="none" stroke="#ff0000" stroke-width="3.4" stroke-linejoin="round"/>
</g>
<rect x="125" y="1011" width="1040.3" height="812" fill="none" stroke="#000" stroke-width="6.0"/>
<line x1="211.7" y1="1823" x2="211.7" y2="1815" stroke="#000" stroke-width="5.6"/>
<line x1="298.4" y1="1823" x2="298.4" y2="1807" stroke="#000" stroke-width="5.6"/>
<line x1="385.1" y1="1823" x2="385.1" y2="1815" stroke="#000" stroke-width="5.6"/>
<line x1="471.8" y1="1823" x2="471.8" y2="1807" stroke="#000" stroke-width="5.6"/>
<line x1="558.5" y1="1823" x2="558.5" y2="1815" stroke="#000" stroke-width="5.6"/>
<line x1="645.1" y1="1823" x2="645.1" y2="1807" stroke="#000" stroke-width="5.6"/>
<line x1="731.8" y1="1823" x2="731.8" y2="1815" stroke="#000" stroke-width="5.6"/>
<line x1="818.5" y1="1823" x2="818.5" y2="1807" stroke="#000" stroke-width="5.6"/>
<line x1="905.2" y1="1823" x2="905.2" y2="1815" stroke="#000" stroke-width="5.6"/>
<line x1="991.9" y1="1823" x2="991.9" y2="1807" stroke="#000" stroke-width="5.6"/>
<line x1="1078.6" y1="1823" x2="1078.6" y2="1815" stroke="#000" stroke-width="5.6"/>
<text x="125" y="1868.3" text-anchor="middle" class="tk">786</text>
<text x="298.4" y="1868.3" text-anchor="middle" class="tk">784</text>
<text x="471.8" y="1868.3" text-anchor="middle" class="tk">782</text>
<text x="645.1" y="1868.3" text-anchor="middle" class="tk">780</text>
<text x="818.5" y="1868.3" text-anchor="middle" class="tk">778</text>
<text x="991.9" y="1868.3" text-anchor="middle" class="tk">776</text>
<text x="1165.3" y="1868.3" text-anchor="middle" class="tk">774</text>
<text x="645.1" y="1935" text-anchor="middle" class="ax">Binding Energy (eV)</text>
<text transform="translate(90.6,1417) rotate(-90)" text-anchor="middle" class="ax">Intensity (a.u.)</text>
<text x="136.4" y="1068.2" class="lt">(c)</text>
<circle cx="833.2" cy="1053.6" r="9.1"/>
<text x="892.4" y="1067.9" class="lg">Experiment</text>
<rect x="787.2" y="1083.8" width="88.7" height="43.9" fill="rgba(0,100,0,0.095)" stroke="#3c963c" stroke-width="3.4" stroke-dasharray="13.5 16.5"/>
<text x="892.4" y="1120.8" class="lg">Ba 3d<tspan class="sb" dy="11.9">5/2</tspan></text>
<line x1="785.1" y1="1167.6" x2="881.2" y2="1167.6" stroke="#ff0000" stroke-width="4.4"/>
<text x="892.4" y="1181.4" class="lg">Fitting</text>
<text x="513.2" y="1089" class="pk">779.74</text>
<text x="816.8" y="1505.5" class="pk">778.81</text>
<defs><clipPath id="clipd"><rect x="1342.5" y="1011" width="1036.3" height="808.6"/></clipPath></defs>
<g clip-path="url(#clipd)">
<circle cx="1338.5" cy="1671.7" r="9.1"/>
<circle cx="1355.8" cy="1673.7" r="9.1"/>
<circle cx="1373.1" cy="1621.7" r="9.1"/>
<circle cx="1390.4" cy="1640.7" r="9.1"/>
<circle cx="1407.7" cy="1667.2" r="9.1"/>
<circle cx="1425" cy="1657.3" r="9.1"/>
<circle cx="1442.2" cy="1643.2" r="9.1"/>
<circle cx="1459.5" cy="1679.6" r="9.1"/>
<circle cx="1476.8" cy="1658.8" r="9.1"/>
<circle cx="1494.1" cy="1669.7" r="9.1"/>
<circle cx="1511.4" cy="1612.3" r="9.1"/>
<circle cx="1528.7" cy="1711.8" r="9.1"/>
<circle cx="1546" cy="1623.4" r="9.1"/>
<circle cx="1563.3" cy="1644" r="9.1"/>
<circle cx="1580.6" cy="1651.4" r="9.1"/>
<circle cx="1597.8" cy="1618.5" r="9.1"/>
<circle cx="1615.1" cy="1660.6" r="9.1"/>
<circle cx="1632.4" cy="1645.7" r="9.1"/>
<circle cx="1649.7" cy="1654.4" r="9.1"/>
<circle cx="1667" cy="1646.9" r="9.1"/>
<circle cx="1684.3" cy="1654.9" r="9.1"/>
<circle cx="1701.6" cy="1637" r="9.1"/>
<circle cx="1718.9" cy="1604.9" r="9.1"/>
<circle cx="1736.2" cy="1669.7" r="9.1"/>
<circle cx="1753.5" cy="1624.2" r="9.1"/>
<circle cx="1770.8" cy="1646.4" r="9.1"/>
<circle cx="1788" cy="1661.8" r="9.1"/>
<circle cx="1805.3" cy="1343.6" r="9.1"/>
<circle cx="1822.6" cy="1373" r="9.1"/>
<circle cx="1839.9" cy="1161.2" r="9.1"/>
<circle cx="1857.2" cy="1113.7" r="9.1"/>
<circle cx="1874.5" cy="1188" r="9.1"/>
<circle cx="1891.8" cy="1159.5" r="9.1"/>
<circle cx="1909.1" cy="1191.5" r="9.1"/>
<circle cx="1926.4" cy="1270.1" r="9.1"/>
<circle cx="1943.7" cy="1267.5" r="9.1"/>
<circle cx="1960.9" cy="1509.5" r="9.1"/>
<circle cx="1978.2" cy="1485.5" r="9.1"/>
<circle cx="1995.5" cy="1609.3" r="9.1"/>
<circle cx="2012.8" cy="1656.5" r="9.1"/>
<circle cx="2030.1" cy="1665.5" r="9.1"/>
<circle cx="2047.4" cy="1591.7" r="9.1"/>
<circle cx="2064.7" cy="1545.9" r="9.1"/>
<circle cx="2082" cy="1491.7" r="9.1"/>
<circle cx="2099.3" cy="1468.4" r="9.1"/>
<circle cx="2116.6" cy="1561.8" r="9.1"/>
<circle cx="2133.8" cy="1667.2" r="9.1"/>
<circle cx="2151.1" cy="1634.3" r="9.1"/>
<circle cx="2168.4" cy="1622.2" r="9.1"/>
<circle cx="2185.7" cy="1677.9" r="9.1"/>
<circle cx="2203" cy="1658.1" r="9.1"/>
<circle cx="2220.3" cy="1667.2" r="9.1"/>
<circle cx="2237.6" cy="1643.2" r="9.1"/>
<circle cx="2254.9" cy="1691" r="9.1"/>
<circle cx="2272.2" cy="1651.9" r="9.1"/>
<circle cx="2289.4" cy="1665" r="9.1"/>
<circle cx="2306.7" cy="1643.2" r="9.1"/>
<circle cx="2324" cy="1676.1" r="9.1"/>
<circle cx="2341.3" cy="1659.3" r="9.1"/>
<circle cx="2358.6" cy="1668.7" r="9.1"/>
<circle cx="2375.9" cy="1665.5" r="9.1"/>
<path d="M1631.5,1656.8 L1631.5,1656.8 L1668.5,1656.4 L1680.5,1656 L1690.5,1655.3 L1699.5,1654.2 L1707.5,1652.6 L1714.5,1650.7 L1720.5,1648.4 L1727.5,1644.8 L1733.5,1640.8 L1739.5,1635.6 L1744.5,1630.3 L1749.5,1623.9 L1754.5,1616.2 L1759.5,1607.3 L1763.5,1599 L1768.5,1587.2 L1772.5,1576.5 L1776.5,1564.6 L1780.5,1551.6 L1784.5,1537.3 L1788.5,1521.7 L1796.5,1486.9 L1803.5,1452.7 L1811.5,1409.9 L1834.5,1276.1 L1841.5,1236.9 L1848.5,1201 L1855.5,1169.7 L1859.5,1154.4 L1862.5,1144.3 L1865.5,1135.6 L1868.5,1128.3 L1870.5,1124.2 L1872.5,1120.7 L1875.5,1116.8 L1878.5,1114.5 L1880.5,1113.8 L1881.5,1113.7 L1882.5,1113.8 L1884.5,1114.5 L1887.5,1116.8 L1890.5,1120.7 L1892.5,1124.2 L1894.5,1128.3 L1897.5,1135.6 L1900.5,1144.3 L1903.5,1154.4 L1907.5,1169.7 L1914.5,1201 L1921.5,1236.9 L1928.5,1276.1 L1951.5,1409.9 L1959.5,1452.7 L1966.5,1486.9 L1974.5,1521.7 L1978.5,1537.3 L1982.5,1551.6 L1986.5,1564.6 L1990.5,1576.5 L1994.5,1587.2 L1999.5,1599 L2003.5,1607.3 L2008.5,1616.2 L2013.5,1623.9 L2018.5,1630.3 L2023.5,1635.6 L2029.5,1640.8 L2035.5,1644.8 L2042.5,1648.4 L2048.5,1650.7 L2055.5,1652.6 L2063.5,1654.2 L2072.5,1655.3 L2082.5,1656 L2094.5,1656.4 L2131.5,1656.8 L2131.5,1656.8 Z" fill="rgba(0,100,0,0.095)" stroke="none"/>
<path d="M1994.5,1656.8 L1994.5,1656.8 L2008.5,1656.7 L2016.5,1656.3 L2023.5,1655.3 L2028.5,1653.7 L2031.5,1652.3 L2033.5,1651 L2037.5,1647.4 L2041.5,1642.1 L2044.5,1636.8 L2048.5,1627.5 L2051.5,1618.7 L2054.5,1608.2 L2057.5,1596.1 L2063.5,1567.4 L2074.5,1509 L2077.5,1494.9 L2079.5,1486.7 L2082.5,1476.5 L2084.5,1471.5 L2086.5,1468 L2087.5,1466.9 L2088.5,1466.1 L2089.5,1465.8 L2090.5,1465.9 L2091.5,1466.4 L2092.5,1467.4 L2094.5,1470.5 L2096.5,1475.2 L2099.5,1484.8 L2101.5,1492.8 L2104.5,1506.5 L2116.5,1570 L2122.5,1598.2 L2125.5,1610.1 L2128.5,1620.3 L2131.5,1628.8 L2135.5,1637.8 L2138.5,1642.9 L2142.5,1647.9 L2146.5,1651.3 L2148.5,1652.5 L2151.5,1653.9 L2156.5,1655.4 L2162.5,1656.2 L2170.5,1656.7 L2185.5,1656.8 L2185.5,1656.8 Z" fill="rgba(0,100,0,0.095)" stroke="none"/>
<path d="M1342.5,1656.8 L1635.5,1656.8 L1663.5,1656.5 L1673.5,1656.3 L1681.5,1655.9 L1692.5,1655.1 L1701.5,1653.8 L1705.5,1653.1 L1709.5,1652.1 L1713.5,1651 L1716.5,1650 L1720.5,1648.4 L1723.5,1647 L1726.5,1645.4 L1729.5,1643.6 L1732.5,1641.5 L1735.5,1639.2 L1740.5,1634.6 L1743.5,1631.4 L1746.5,1627.9 L1749.5,1623.9 L1752.5,1619.5 L1755.5,1614.6 L1758.5,1609.2 L1761.5,1603.2 L1763.5,1599 L1766.5,1592.1 L1769.5,1584.6 L1774.5,1570.7 L1779.5,1554.9 L1784.5,1537.3 L1789.5,1517.6 L1794.5,1496.1 L1799.5,1472.7 L1804.5,1447.6 L1809.5,1420.9 L1815.5,1387.3 L1832.5,1287.7 L1839.5,1247.9 L1843.5,1226.3 L1846.5,1210.8 L1850.5,1191.5 L1853.5,1178.1 L1857.5,1161.8 L1860.5,1150.9 L1862.5,1144.3 L1864.5,1138.4 L1867.5,1130.6 L1869.5,1126.1 L1871.5,1122.4 L1873.5,1119.3 L1874.5,1118 L1876.5,1115.9 L1878.5,1114.5 L1879.5,1114 L1880.5,1113.8 L1881.5,1113.7 L1882.5,1113.8 L1883.5,1114 L1884.5,1114.5 L1886.5,1115.9 L1888.5,1118 L1889.5,1119.3 L1891.5,1122.4 L1893.5,1126.1 L1895.5,1130.6 L1898.5,1138.4 L1900.5,1144.3 L1902.5,1150.9 L1905.5,1161.8 L1909.5,1178.1 L1912.5,1191.5 L1916.5,1210.8 L1919.5,1226.3 L1923.5,1247.9 L1930.5,1287.7 L1947.5,1387.3 L1953.5,1420.9 L1958.5,1447.6 L1963.5,1472.7 L1968.5,1496.1 L1973.5,1517.6 L1978.5,1537.3 L1983.5,1554.9 L1988.5,1570.7 L1993.5,1584.6 L1998.5,1596.8 L2000.5,1601.1 L2003.5,1607.3 L2006.5,1612.8 L2009.5,1617.9 L2011.5,1621 L2014.5,1625.2 L2017.5,1629.1 L2020.5,1632.5 L2022.5,1634.6 L2025.5,1637.5 L2028.5,1640 L2031.5,1642.2 L2034.5,1644.2 L2037.5,1646 L2040.5,1647.5 L2044.5,1649.2 L2047.5,1650.3 L2051.5,1651.6 L2055.5,1652.6 L2059.5,1653.5 L2068.5,1654.8 L2078.5,1655.7 L2086.5,1656.2 L2096.5,1656.5 L2123.5,1656.8 L2378.8,1656.8" fill="none" stroke="#0b650b" stroke-width="2.8" stroke-dasharray="16 15.4"/>
<path d="M1342.5,1656.8 L1996.5,1656.8 L2007.5,1656.7 L2014.5,1656.4 L2019.5,1656 L2024.5,1655 L2028.5,1653.7 L2030.5,1652.8 L2032.5,1651.6 L2035.5,1649.3 L2038.5,1646.2 L2041.5,1642.1 L2044.5,1636.8 L2047.5,1630.1 L2049.5,1624.8 L2052.5,1615.4 L2054.5,1608.2 L2056.5,1600.3 L2059.5,1587.1 L2063.5,1567.4 L2071.5,1524.5 L2074.5,1509 L2077.5,1494.9 L2079.5,1486.7 L2081.5,1479.6 L2082.5,1476.5 L2084.5,1471.5 L2085.5,1469.6 L2086.5,1468 L2087.5,1466.9 L2088.5,1466.1 L2089.5,1465.8 L2090.5,1465.9 L2091.5,1466.4 L2092.5,1467.4 L2093.5,1468.7 L2094.5,1470.5 L2095.5,1472.6 L2097.5,1478 L2098.5,1481.3 L2100.5,1488.6 L2102.5,1497.1 L2105.5,1511.5 L2115.5,1564.8 L2119.5,1584.8 L2123.5,1602.4 L2125.5,1610.1 L2127.5,1617.1 L2129.5,1623.3 L2131.5,1628.8 L2133.5,1633.6 L2136.5,1639.6 L2138.5,1642.9 L2141.5,1646.8 L2143.5,1648.9 L2146.5,1651.3 L2148.5,1652.5 L2151.5,1653.9 L2153.5,1654.6 L2156.5,1655.4 L2159.5,1655.9 L2162.5,1656.2 L2171.5,1656.7 L2190.5,1656.8 L2378.8,1656.8" fill="none" stroke="#0b650b" stroke-width="2.8" stroke-dasharray="16 15.4"/>
<path d="M1680,1656.8 L2170,1656.8" fill="none" stroke="#0b650b" stroke-width="3.2" stroke-dasharray="28.8 2"/>
<path d="M1342.5,1656.8 L1635.5,1656.8 L1663.5,1656.5 L1673.5,1656.3 L1681.5,1655.9 L1692.5,1655.1 L1701.5,1653.8 L1705.5,1653.1 L1709.5,1652.1 L1713.5,1651 L1716.5,1650 L1720.5,1648.4 L1723.5,1647 L1726.5,1645.4 L1729.5,1643.6 L1732.5,1641.5 L1735.5,1639.2 L1740.5,1634.6 L1743.5,1631.4 L1746.5,1627.9 L1749.5,1623.9 L1752.5,1619.5 L1755.5,1614.6 L1758.5,1609.2 L1761.5,1603.2 L1763.5,1599 L1766.5,1592.1 L1769.5,1584.6 L1774.5,1570.7 L1779.5,1554.9 L1784.5,1537.3 L1789.5,1517.6 L1794.5,1496.1 L1799.5,1472.7 L1804.5,1447.6 L1809.5,1420.9 L1815.5,1387.3 L1832.5,1287.7 L1839.5,1247.9 L1843.5,1226.3 L1846.5,1210.8 L1850.5,1191.5 L1853.5,1178.1 L1857.5,1161.8 L1860.5,1150.9 L1862.5,1144.3 L1864.5,1138.4 L1867.5,1130.6 L1869.5,1126.1 L1871.5,1122.4 L1873.5,1119.3 L1874.5,1118 L1876.5,1115.9 L1878.5,1114.5 L1879.5,1114 L1880.5,1113.8 L1881.5,1113.7 L1882.5,1113.8 L1883.5,1114 L1884.5,1114.5 L1886.5,1115.9 L1888.5,1118 L1889.5,1119.3 L1891.5,1122.4 L1893.5,1126.1 L1895.5,1130.6 L1898.5,1138.4 L1900.5,1144.3 L1902.5,1150.9 L1906.5,1165.7 L1910.5,1182.4 L1913.5,1196.2 L1916.5,1210.8 L1919.5,1226.3 L1923.5,1247.9 L1930.5,1287.7 L1947.5,1387.3 L1952.5,1415.4 L1957.5,1442.3 L1962.5,1467.8 L1967.5,1491.5 L1972.5,1513.5 L1977.5,1533.5 L1981.5,1548.1 L1986.5,1564.6 L1991.5,1579.3 L1996.5,1592.1 L1998.5,1596.7 L2001.5,1603.2 L2003.5,1607.2 L2006.5,1612.7 L2008.5,1616.1 L2011.5,1620.8 L2014.5,1624.9 L2017.5,1628.5 L2020.5,1631.6 L2022.5,1633.3 L2024.5,1634.8 L2026.5,1636 L2028.5,1636.9 L2030.5,1637.5 L2032.5,1637.8 L2034.5,1637.6 L2036.5,1637 L2038.5,1635.9 L2040.5,1634.3 L2041.5,1633.3 L2043.5,1630.8 L2045.5,1627.6 L2047.5,1623.6 L2048.5,1621.4 L2051.5,1613.5 L2053.5,1607.3 L2056.5,1596.4 L2059.5,1583.8 L2061.5,1574.6 L2064.5,1559.7 L2074.5,1507.6 L2077.5,1493.8 L2079.5,1485.7 L2081.5,1478.7 L2082.5,1475.7 L2084.5,1470.8 L2085.5,1468.9 L2086.5,1467.4 L2087.5,1466.3 L2088.5,1465.6 L2089.5,1465.3 L2090.5,1465.4 L2091.5,1466 L2092.5,1467 L2093.5,1468.3 L2094.5,1470.1 L2095.5,1472.3 L2097.5,1477.7 L2098.5,1481 L2100.5,1488.4 L2102.5,1496.9 L2105.5,1511.3 L2115.5,1564.7 L2119.5,1584.7 L2123.5,1602.3 L2125.5,1610.1 L2127.5,1617.1 L2129.5,1623.3 L2131.5,1628.8 L2133.5,1633.6 L2136.5,1639.6 L2138.5,1642.9 L2141.5,1646.8 L2143.5,1648.9 L2146.5,1651.3 L2148.5,1652.5 L2151.5,1653.9 L2153.5,1654.6 L2156.5,1655.4 L2159.5,1655.9 L2162.5,1656.2 L2171.5,1656.7 L2190.5,1656.8 L2378.8,1656.8" fill="none" stroke="#ff0000" stroke-width="3.4" stroke-linejoin="round"/>
</g>
<rect x="1342.5" y="1011" width="1036.3" height="808.6" fill="none" stroke="#000" stroke-width="6.0"/>
<line x1="1428.9" y1="1819.6" x2="1428.9" y2="1811.6" stroke="#000" stroke-width="5.6"/>
<line x1="1515.2" y1="1819.6" x2="1515.2" y2="1803.6" stroke="#000" stroke-width="5.6"/>
<line x1="1601.6" y1="1819.6" x2="1601.6" y2="1811.6" stroke="#000" stroke-width="5.6"/>
<line x1="1687.9" y1="1819.6" x2="1687.9" y2="1803.6" stroke="#000" stroke-width="5.6"/>
<line x1="1774.3" y1="1819.6" x2="1774.3" y2="1811.6" stroke="#000" stroke-width="5.6"/>
<line x1="1860.7" y1="1819.6" x2="1860.7" y2="1803.6" stroke="#000" stroke-width="5.6"/>
<line x1="1947" y1="1819.6" x2="1947" y2="1811.6" stroke="#000" stroke-width="5.6"/>
<line x1="2033.4" y1="1819.6" x2="2033.4" y2="1803.6" stroke="#000" stroke-width="5.6"/>
<line x1="2119.7" y1="1819.6" x2="2119.7" y2="1811.6" stroke="#000" stroke-width="5.6"/>
<line x1="2206.1" y1="1819.6" x2="2206.1" y2="1803.6" stroke="#000" stroke-width="5.6"/>
<line x1="2292.4" y1="1819.6" x2="2292.4" y2="1811.6" stroke="#000" stroke-width="5.6"/>
<text x="1342.5" y="1866.6" text-anchor="middle" class="tk">786</text>
<text x="1515.2" y="1866.6" text-anchor="middle" class="tk">784</text>
<text x="1687.9" y="1866.6" text-anchor="middle" class="tk">782</text>
<text x="1860.7" y="1866.6" text-anchor="middle" class="tk">780</text>
<text x="2033.4" y="1866.6" text-anchor="middle" class="tk">778</text>
<text x="2206.1" y="1866.6" text-anchor="middle" class="tk">776</text>
<text x="2378.8" y="1866.6" text-anchor="middle" class="tk">774</text>
<text x="1860.7" y="1935" text-anchor="middle" class="ax">Binding Energy (eV)</text>
<text transform="translate(1307.5,1415.3) rotate(-90)" text-anchor="middle" class="ax">Intensity (a.u.)</text>
<text x="1352.2" y="1068.5" class="lt">(d)</text>
<circle cx="2048" cy="1053.5" r="9.1"/>
<text x="2106.8" y="1067.8" class="lg">Experiment</text>
<rect x="2004" y="1083.7" width="87.9" height="44.3" fill="rgba(0,100,0,0.095)" stroke="#3c963c" stroke-width="3.4" stroke-dasharray="13.5 16.5"/>
<text x="2106.8" y="1120.5" class="lg">Ba 3d<tspan class="sb" dy="10">5/2</tspan></text>
<line x1="2000.3" y1="1166.6" x2="2096.7" y2="1166.6" stroke="#ff0000" stroke-width="4.4"/>
<text x="2106.8" y="1180.1" class="lg">Fitting</text>
<text x="1779.6" y="1087" class="pk">779.76</text>
<text x="2035.2" y="1436.4" class="pk">777.36</text>
</svg></body></html>
